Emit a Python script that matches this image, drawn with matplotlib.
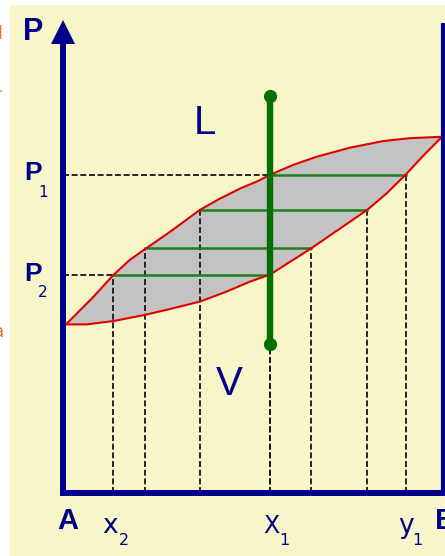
import matplotlib
matplotlib.use("Agg")
import matplotlib.pyplot as plt
import numpy as np

# composition (A = 0, B = 1) and pressure (arbitrary units)
liquid_x = [0.000, 0.073, 0.126, 0.170, 0.213, 0.277, 0.356, 0.410, 0.463, 0.511,
            0.543, 0.605, 0.667, 0.755, 0.844, 0.915, 1.000]
liquid_p = [35.5, 41.3, 45.9, 49.1, 51.5, 55.0, 59.6, 62.0, 64.1, 65.7,
            67.0, 69.1, 70.8, 72.7, 74.1, 74.7, 75.0]
vapour_x = [0.000, 0.055, 0.126, 0.210, 0.285, 0.356, 0.427, 0.489, 0.543,
            0.652, 0.720, 0.801, 0.853, 0.903, 0.950, 1.000]
vapour_p = [35.5, 35.5, 36.2, 37.5, 38.9, 40.3, 42.4, 44.5, 46.0,
            51.5, 55.2, 59.6, 63.1, 67.0, 71.0, 75.0]

# tie lines: pressure, liquid end, vapour end
tie_p = [67.0, 59.6, 51.5, 46.0]
tie_liq = [0.543, 0.356, 0.211, 0.125]
tie_vap = [0.903, 0.801, 0.652, 0.543]

# isopleth at x1
iso_x = 0.542
iso_p = [31.4, 83.6]

p1 = 67.0
p2 = 46.0
x1 = 0.542
x2 = 0.125
y1 = 0.903

NAVY = "#00008b"
CREAM = "#f8f6c8"
GRAY = "#c3c3c3"
RED = "#e00000"
GREEN = "#007000"
TIE = "#1f7f1f"

fig = plt.figure(figsize=(4.45, 5.56), dpi=100, facecolor="white")
ax = fig.add_axes([10 / 445, 0, 435 / 445, 551 / 556], facecolor=CREAM)
ax.set_xlim(-0.1489, 1.008)
ax.set_ylim(-13.26, 102.74)
ax.set_xticks([])
ax.set_yticks([])
for s in ax.spines.values():
    s.set_visible(False)

# two-phase lens
ax.fill(
    np.concatenate([liquid_x, vapour_x[::-1]]),
    np.concatenate([liquid_p, vapour_p[::-1]]),
    color=GRAY, lw=0, zorder=1,
)

# dashed drop lines from every tie line end
dash = dict(color="#151515", lw=1.3, dashes=(3.3, 1.5), zorder=2)
for p, a, b in zip(tie_p, tie_liq, tie_vap):
    ax.plot([a, a], [0, p], **dash)
    ax.plot([b, b], [0, p], **dash)
ax.plot([-0.008, x1], [p1, p1], **dash)
ax.plot([-0.008, x2], [p2, p2], **dash)

# tie lines
for p, a, b in zip(tie_p, tie_liq, tie_vap):
    ax.plot([a, b], [p, p], color=TIE, lw=1.8, zorder=3)

ax.plot(liquid_x, liquid_p, color=RED, lw=1.5, zorder=4)
ax.plot(vapour_x, vapour_p, color=RED, lw=1.5, zorder=4)

ax.plot([iso_x, iso_x], iso_p, color=GREEN, lw=4.6, zorder=5,
        marker="o", markersize=9.5, markeredgewidth=0)

# axes frame
ax.plot([-0.008, -0.008], [0, 97.5], color=NAVY, lw=4.3, zorder=6,
        solid_capstyle="butt")
ax.plot([-0.008], [97.0], color=NAVY, marker="^", markersize=17,
        markeredgewidth=0, zorder=6)
ax.plot([-0.016, 1.01], [0, 0], color=NAVY, lw=4.3, zorder=6,
        solid_capstyle="butt")
ax.plot([1.002, 1.002], [0, 98.9], color=NAVY, lw=3.0, zorder=6,
        solid_capstyle="butt")

bold = dict(color=NAVY, family="Liberation Sans", weight="bold",
            ha="center", va="center")
reg = dict(color=NAVY, family="DejaVu Sans", ha="center", va="baseline")

ax.text(-0.088, 97.0, "P", fontsize=22, **bold)
ax.text(-0.088, p1 + 0.3, "P", fontsize=19, **bold)
ax.text(-0.062, p1 - 4.6, "1", fontsize=11, **reg)
ax.text(-0.088, p2 + 0.2, "P", fontsize=19, **bold)
ax.text(-0.062, p2 - 4.7, "2", fontsize=11, **reg)

ax.text(0.004, -5.9, "A", fontsize=21, **bold)
ax.text(0.981, -5.9, "B", fontsize=21, color=NAVY, family="Liberation Sans",
        weight="bold", ha="left", va="center")

ax.text(x2 - 0.008, -8.4, "x", fontsize=19, **reg)
ax.text(x2 + 0.029, -10.9, "2", fontsize=11.5, **reg)
ax.text(x1 + 0.004, -8.4, "X", fontsize=17, **reg)
ax.text(x1 + 0.038, -10.9, "1", fontsize=11.5, **reg)
ax.text(y1 + 0.002, -8.4, "y", fontsize=19, **reg)
ax.text(y1 + 0.032, -10.9, "1", fontsize=11.5, **reg)

ax.text(0.370, 77.9, "L", fontsize=29, color=NAVY, family="Liberation Sans",
        ha="center", va="center")
ax.text(0.435, 22.9, "V", fontsize=29, color=NAVY, family="Liberation Sans",
        ha="center", va="center")

# scraps of the page the picture was cut from
fig.text(-3 / 445, 1 - 34 / 556, "l", fontsize=12, color="#f26b2a",
         weight="bold", ha="left", va="center")
fig.text(-1 / 445, 1 - 88 / 556, ".", fontsize=10, color="#f26b2a",
         ha="left", va="center")
fig.text(-6 / 445, 1 - 332 / 556, "a", fontsize=12, color="#f26b2a",
         ha="left", va="center")

fig.savefig("out.png", dpi=100, facecolor="white")
